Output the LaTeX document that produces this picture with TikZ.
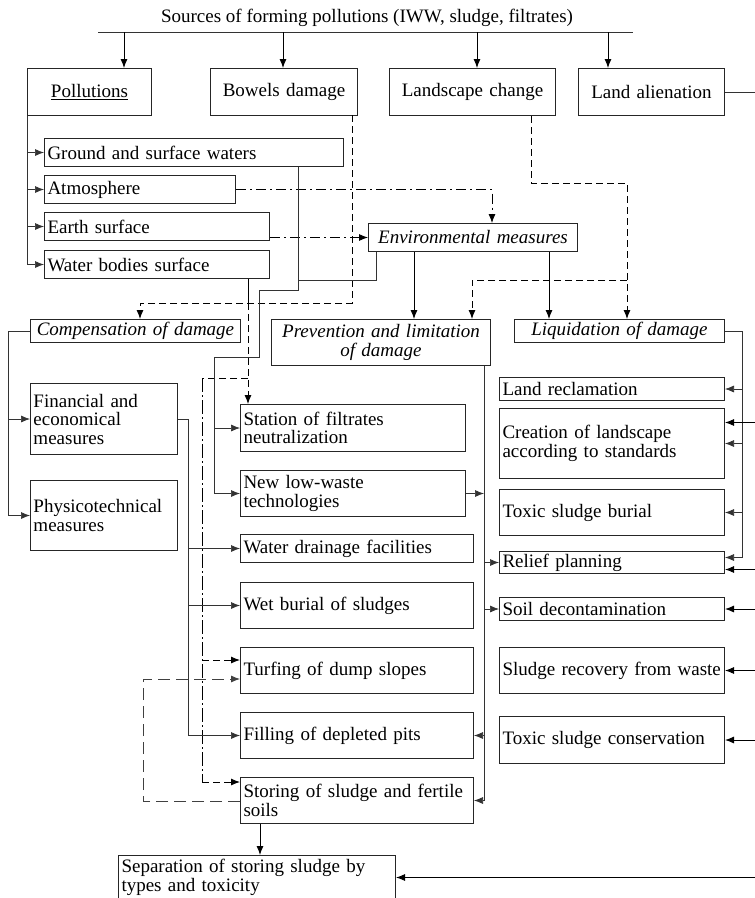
\documentclass[tikz,border=0pt]{standalone}
\usepackage{fontspec}
\setmainfont{Liberation Serif}
\usetikzlibrary{arrows.meta,calc}
\newcommand\myfsz{\fontsize{19}{18.5}\selectfont}
\begin{document}
\begin{tikzpicture}[x=1pt,y=-1pt,
  every node/.style={font=\myfsz},
  box/.style={draw=black!85, line width=1pt, anchor=north west, inner xsep=3pt, inner ysep=0pt, align=left},
  cbox/.style={box, align=center},
  it/.style={font=\myfsz\itshape},
  wh/.style n args={3}{minimum width=#1pt, minimum height=#2pt, text width=#3pt},
  arr/.style={-{Latex[length=9pt,width=7pt]}},
  con/.style={line width=0.9pt, black},
  thn/.style={line width=0.7pt, black!80},
  dsh/.style={line width=0.9pt, black, dash pattern=on 7pt off 4pt},
  dd/.style={line width=0.8pt, black, dash pattern=on 10pt off 4pt on 2pt off 4pt},
  ldd/.style={line width=0.8pt, black, dash pattern=on 14pt off 3pt on 2pt off 3pt},
  ldash/.style={line width=0.8pt, black!75, dash pattern=on 12pt off 6pt}]
\useasboundingbox (0,0) rectangle (755,898);
\clip (0,0) rectangle (755,898);
\fill[white] (0,0) rectangle (755,898);

% title and bus
\node (title) at (367,18) {Sources of forming pollutions (IWW, sludge, filtrates)};
\coordinate (busL) at (98,32);
\coordinate (busR) at (633,32);
\draw[thn] (busL) -- (busR);

% top boxes
\node[cbox, wh={124}{47}{118}] (poll) at (27,68) {\underline{Pollutions}};
\node[cbox, wh={147}{47}{141}] (bow) at (210,68) {Bowels damage};
\node[cbox, wh={166}{47}{160}] (land) at (389,68) {Landscape change};
\node[cbox, wh={146}{47}{140}] (alien) at (578,68) {Land alienation};
\foreach \x in {124,283,477,608} \draw[con,arr] (\x,32) -- (\x,68);
\draw[thn] (alien.east) -- ++(40,0);

% pollution sub boxes
\node[box, wh={299}{28}{293}] (gsw) at (44,138) {Ground and surface waters};
\node[box, wh={191}{28}{185}] (atm) at (44,175) {Atmosphere};
\node[box, wh={225}{28}{219}] (es) at (44,212) {Earth surface};
\node[box, wh={225}{28}{219}] (wbs) at (44,250) {Water bodies surface};

% measures
\node[cbox, it, wh={209}{28}{203}] (env) at (368,223) {Environmental measures};
\node[cbox, it, wh={210}{23}{204}] (comp) at (30,319) {Compensation of damage};
\node[cbox, it, wh={219}{46}{213}] (prev) at (271,319) {Prevention and limitation\\of damage};
\node[cbox, it, wh={210}{23}{204}] (liq) at (514,319) {Liquidation of damage};

% left column
\node[box, wh={147}{71}{141}] (fin) at (30,383) {Financial and\\economical\\measures};
\node[box, wh={147}{70}{141}] (phys) at (30,480) {Physicotechnical\\measures};

% middle column
\node[box, wh={225}{47}{219}] (station) at (240,404) {Station of filtrates\\neutralization};
\node[box, wh={225}{46}{219}] (newlow) at (240,470) {New low-waste\\technologies};
\node[box, wh={233}{28}{227}] (water) at (240,534) {Water drainage facilities};
\node[box, wh={233}{46}{227}] (wet) at (240,582) {Wet burial of sludges};
\node[box, wh={233}{46}{227}] (turf) at (240,647) {Turfing of dump slopes};
\node[box, wh={233}{46}{227}] (fill) at (240,712) {Filling of depleted pits};
\node[box, wh={233}{46}{227}] (store) at (240,777) {Storing of sludge and fertile\\soils};
\node[box, wh={277}{44}{271}] (sep) at (118,855) {Separation of storing sludge by\\types and toxicity};

% right column
\node[box, wh={225}{23}{219}] (lrec) at (499,377) {Land reclamation};
\node[box, wh={225}{70}{219}] (creat) at (499,408) {Creation of landscape\\according to standards};
\node[box, wh={225}{46}{219}] (tsb) at (499,489) {Toxic sludge burial};
\node[box, wh={225}{22}{219}] (relief) at (499,551) {Relief planning};
\node[box, wh={225}{23}{219}] (soil) at (499,597) {Soil decontamination};
\node[box, wh={225}{46}{219}] (recov) at (499,647) {Sludge recovery from waste};
\node[box, wh={225}{47}{219}] (tcons) at (499,716) {Toxic sludge conservation};

% pollution tree
\draw[thn,arr] (poll.south west) |- (wbs.west);
\foreach \n in {gsw,atm,es} \draw[thn,arr] (poll.south west |- \n.west) -- (\n.west);

% atmosphere and earth surface to environmental measures
\coordinate (envA) at (492,223);
\draw[dd,arr] (atm.east) -| (envA);
\draw[dd,arr] (es.east |- env.west) -- (env.west);

% bowels damage dashed network
\coordinate (b1) at (352,115);
\coordinate (b2) at (352,303);
\coordinate (b3) at (140,303);
\draw[dsh,arr] (b1) -- (b2) -- (b3) -- (b3 |- comp.north);
\coordinate (w1) at (248,303);
\draw[con] (wbs.south -| w1) -- (w1);
\draw[dsh,arr] (w1) -- (w1 |- station.north);
\coordinate (d1) at (248,378);
\coordinate (d2) at (202,378);
\coordinate (s1) at (202,782);
\coordinate (t1) at (202,660);
\draw[dsh] (d1) -- (d2);
\draw[ldd] (d2) -- (s1);
\draw[dsh,arr] (t1) -- (t1 -| turf.west);
\draw[dsh,arr] (s1) -- (s1 -| store.west);

% storing to turfing loop
\coordinate (l1) at (143,801);
\coordinate (l2) at (143,679);
\draw[ldash,arr] (l1 -| store.west) -- (l1) -- (l2) -- (l2 -| turf.west);

% ground waters and env measures to station / new technologies
\coordinate (g1) at (298,280);
\coordinate (g2) at (298,290);
\coordinate (g3) at (259,290);
\coordinate (g4) at (259,357);
\coordinate (g5) at (214,357);
\coordinate (e1) at (376,0);
\draw[thn,arr] (gsw.south -| g1) -- (g2) -- (g3) -- (g4) -- (g5) |- (newlow.west);
\draw[thn,arr] (g5 |- station.west) -- (station.west);
\draw[thn] (env.south -| e1) |- (g1);

% env measures to prevention / liquidation
\coordinate (e2) at (414,0);
\coordinate (e3) at (549,0);
\draw[con,arr] (env.south -| e2) -- (prev.north -| e2);
\draw[con,arr] (env.south -| e3) -- (liq.north -| e3);

% landscape change dashed
\coordinate (c1) at (531,0);
\coordinate (c2) at (531,183);
\coordinate (c3) at (627,183);
\coordinate (c4) at (627,280);
\coordinate (c5) at (472,280);
\draw[dsh,arr] (land.south -| c1) -- (c2) -- (c3) -- (c3 |- liq.north);
\draw[dsh,arr] (c4) -- (c5) -- (c5 |- prev.north);

% compensation tree
\coordinate (k1) at (8,0);
\draw[thn,arr] (comp.west) -| (k1 |- phys.west) -- (phys.west);
\draw[thn,arr] (k1 |- fin.west) -- (fin.west);

% financial line
\coordinate (f1) at (188,0);
\draw[thn,arr] (fin.east) -| (f1 |- fill.west) -- (fill.west);
\foreach \n in {water,wet} \draw[thn,arr] (f1 |- \n.west) -- (\n.west);

% prevention vertical
\coordinate (p1) at (484,0);
\draw[thn] (p1 |- prev.south) -- (p1 |- store.east);
\draw[thn,arr] (newlow.east) -- (p1 |- newlow.east);
\foreach \n in {relief,soil} \draw[thn,arr] (p1 |- \n.west) -- (\n.west);
\foreach \n in {fill,store} \draw[thn,arr] (p1 |- \n.east) -- (\n.east);

% liquidation bracket
\coordinate (q1) at (742,0);
\draw[thn,arr] (liq.east) -| ($(q1 |- relief.east)+(0,-5)$) -- ($(relief.east)+(0,-5)$);
\foreach \n in {lrec,creat,tsb} \draw[thn,arr] (q1 |- \n.east) -- (\n.east);

% arrows from the right edge
\coordinate (r1) at (755,0);
\draw[con,arr] ($(r1 |- creat.east)+(0,-21)$) -- ($(creat.east)+(0,-21)$);
\draw[con,arr] ($(r1 |- relief.east)+(0,7)$) -- ($(relief.east)+(0,7)$);
\foreach \n in {soil,recov,tcons,sep} \draw[con,arr] (r1 |- \n.east) -- (\n.east);

% storing to separation
\coordinate (v1) at (260,0);
\draw[con,arr] (store.south -| v1) -- (sep.north -| v1);
\end{tikzpicture}
\end{document}
